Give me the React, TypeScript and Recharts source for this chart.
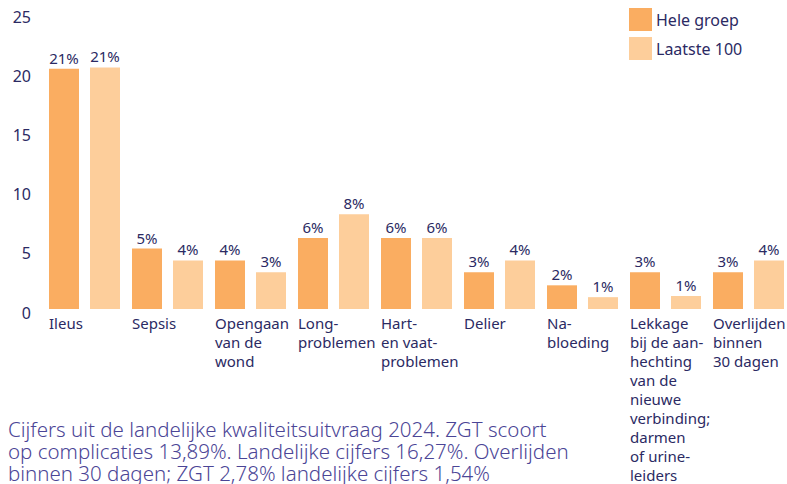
import React from 'react';
import { BarChart, Bar, XAxis, YAxis, LabelList } from 'recharts';

const categories = ['Ileus', 'Sepsis', 'Opengaan van de wond', 'Longproblemen', 'Hart- en vaatproblemen', 'Delier', 'Nabloeding', 'Lekkage bij de aanhechting van de nieuwe verbinding; darmen of urineleiders', 'Overlijden binnen 30 dagen'];
const tickLines = [
  ['Ileus'],
  ['Sepsis'],
  ['Opengaan', 'van de', 'wond'],
  ['Long-', 'problemen'],
  ['Hart-', 'en vaat-', 'problemen'],
  ['Delier'],
  ['Na-', 'bloeding'],
  ['Lekkage', 'bij de aan-', 'hechting', 'van de', 'nieuwe', 'verbinding;', 'darmen', 'of urine-', 'leiders'],
  ['Overlijden', 'binnen', '30 dagen'],
];
const heleGroep = [20.3, 5.1, 4.1, 6.0, 6.0, 3.1, 2.0, 3.1, 3.1];
const laatste100 = [20.4, 4.1, 3.1, 8.0, 6.0, 4.1, 1.0, 1.1, 4.1];
const heleLabels = ['21%', '5%', '4%', '6%', '6%', '3%', '2%', '3%', '3%'];
const laatsteLabels = ['21%', '4%', '3%', '8%', '6%', '4%', '1%', '1%', '4%'];
const yTicks = [0, 5, 10, 15, 20, 25];
const seriesNames = ['Hele groep', 'Laatste 100'];

const ORANGE = '#faad61';
const LIGHT = '#fdce9b';
const INK = '#2b2a63';
const FONT = '"Noto Sans", sans-serif';

const data = categories.map((c, i) => ({
  name: c,
  hele: heleGroep[i],
  laatste: laatste100[i],
  heleLabel: heleLabels[i],
  laatsteLabel: laatsteLabels[i],
}));

function CategoryTick(props: any) {
  const { x, y, payload } = props;
  const lines = tickLines[payload.index] || [payload.value];
  return (
    <text x={x - 35.5} y={y} fill={INK} fontSize={15} fontFamily={FONT} textAnchor="start">
      {lines.map((l, i) => (
        <tspan key={i} x={x - 35.5} dy={i === 0 ? 18 : 19}>{l}</tspan>
      ))}
    </text>
  );
}

function LegendBox() {
  const colors = [ORANGE, LIGHT];
  return (
    <div style={{ position: 'absolute', left: 629, top: 5, fontFamily: FONT, fontSize: 16, color: INK }}>
      {seriesNames.map((s, i) => (
        <div key={s} style={{ display: 'flex', alignItems: 'center', height: 29 }}>
          <span style={{ width: 23, height: 23, background: colors[i], display: 'inline-block', marginRight: 4 }} />
          <span>{s}</span>
        </div>
      ))}
    </div>
  );
}

export default function App() {
  return (
    <div style={{ position: 'absolute', left: 0, top: 0, width: 787, height: 484, overflow: 'hidden', background: '#fff' }}>
      <BarChart width={790} height={484} data={data} margin={{ top: 13, right: 0, bottom: 0, left: 0 }} barSize={30} barGap={11}>
        <XAxis dataKey="name" axisLine={false} tickLine={false} tickSize={0} tickMargin={2} height={175} interval={0} tick={<CategoryTick />} />
        <YAxis domain={[0, 25]} ticks={yTicks} axisLine={false} tickLine={false} tickSize={0} tickMargin={12} width={43}
          tick={{ fill: INK, fontSize: 16, fontFamily: FONT, dy: 4 }} />
        <Bar dataKey="hele" name={seriesNames[0]} fill={ORANGE} isAnimationActive={false}>
          <LabelList dataKey="heleLabel" position="top" offset={5} fill={INK} fontSize={15} fontFamily={FONT} />
        </Bar>
        <Bar dataKey="laatste" name={seriesNames[1]} fill={LIGHT} isAnimationActive={false}>
          <LabelList dataKey="laatsteLabel" position="top" offset={5} fill={INK} fontSize={15} fontFamily={FONT} />
        </Bar>
      </BarChart>
      <LegendBox />
      <div style={{ position: 'absolute', left: 8, top: 418, fontFamily: FONT, fontSize: 20.5, lineHeight: '22px', color: '#4b4596', fontWeight: 300, whiteSpace: 'nowrap' }}>
        Cijfers uit de landelijke kwaliteitsuitvraag 2024. ZGT scoort<br />
        op complicaties 13,89%. Landelijke cijfers 16,27%. Overlijden<br />
        binnen 30 dagen; ZGT 2,78% landelijke cijfers 1,54%
      </div>
    </div>
  );
}
